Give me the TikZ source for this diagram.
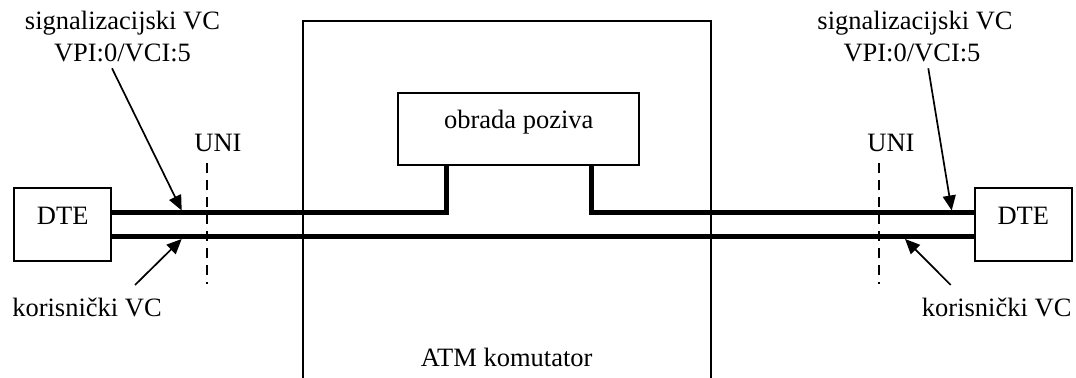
\documentclass[tikz,border=0pt]{standalone}
\usepackage{fontspec}
\setmainfont{Liberation Serif}
\usetikzlibrary{arrows.meta}
\begin{document}
\begin{tikzpicture}[x=0.5pt,y=-0.5pt,
  font=\fontsize{13.25pt}{15.9pt}\selectfont,
  box/.style={draw,line width=1pt,inner sep=0pt,text height=0.75em,text depth=0.75em},
  lbl/.style={anchor=base,inner sep=0pt},
  thickline/.style={line width=2.5pt},
  ptr/.style={line width=0.85pt,-{Triangle[length=7.5pt,width=6.5pt]}},
  unidash/.style={line width=1pt,dash pattern=on 5pt off 3.5pt}]
\useasboundingbox (0,0) rectangle (1076,378);
% ATM switch (open at bottom)
\draw[line width=1pt] (302.7,395) -- (302.7,20.7) -- (711,20.7) -- (711,395);
\node[lbl] (atm) at (506.7,366.7) {ATM komutator};
% boxes
\node[box,minimum width=48.5pt,minimum height=36.5pt] (dteL) at (62.7,224.5) {DTE};
\node[box,minimum width=48.5pt,minimum height=36.5pt] (dteR) at (1023.3,224.5) {DTE};
\node[box,minimum width=120.5pt,minimum height=36.2pt] (obr) at (518.8,128.8) {obrada poziva};
% stubs
\coordinate (stubL) at ([xshift=-36.1pt]obr.south);
\coordinate (stubR) at ([xshift=36.45pt]obr.south);
% thick lines
\draw[thickline] ([yshift=5.9pt]dteL.east) -- ([yshift=5.9pt]dteL.east -| stubL) -- (stubL);
\draw[thickline] ([yshift=5.9pt]dteR.west) -- ([yshift=5.9pt]dteR.west -| stubR) -- (stubR);
\draw[thickline] ([yshift=-6.1pt]dteL.east) -- ([yshift=-6.1pt]dteR.west);
% UNI
\node[lbl] (uniL) at (218,151.7) {UNI};
\node[lbl] (uniR) at (891,151.7) {UNI};
\coordinate (uL1) at (206.7,163); \coordinate (uL2) at (206.7,284);
\coordinate (uR1) at (879,163); \coordinate (uR2) at (879,284);
\draw[unidash] (uL1) -- (uL2);
\draw[unidash] (uR1) -- (uR2);
% labels
\node[lbl] (sigL1) at (122.5,30) {signalizacijski VC};
\node[lbl] (sigL2) at (122.5,61.7) {VPI:0/VCI:5};
\node[lbl] (sigR1) at (915,30) {signalizacijski VC};
\node[lbl] (sigR2) at (912,61.7) {VPI:0/VCI:5};
\node[lbl] (korL) at (87,316.7) {korisnički VC};
\node[lbl] (korR) at (996.7,316.7) {korisnički VC};
% arrows
\coordinate (aSL0) at (112,68.3);  \coordinate (aSL1) at (181.7,210.5);
\coordinate (aKL0) at (135,285);   \coordinate (aKL1) at (181.7,239);
\coordinate (aSR0) at (928.3,68.3);\coordinate (aSR1) at (951.7,210.5);
\coordinate (aKR0) at (950.7,285); \coordinate (aKR1) at (905,239);
\draw[ptr] (aSL0) -- (aSL1);
\draw[ptr] (aKL0) -- (aKL1);
\draw[ptr] (aSR0) -- (aSR1);
\draw[ptr] (aKR0) -- (aKR1);
\end{tikzpicture}
\end{document}
